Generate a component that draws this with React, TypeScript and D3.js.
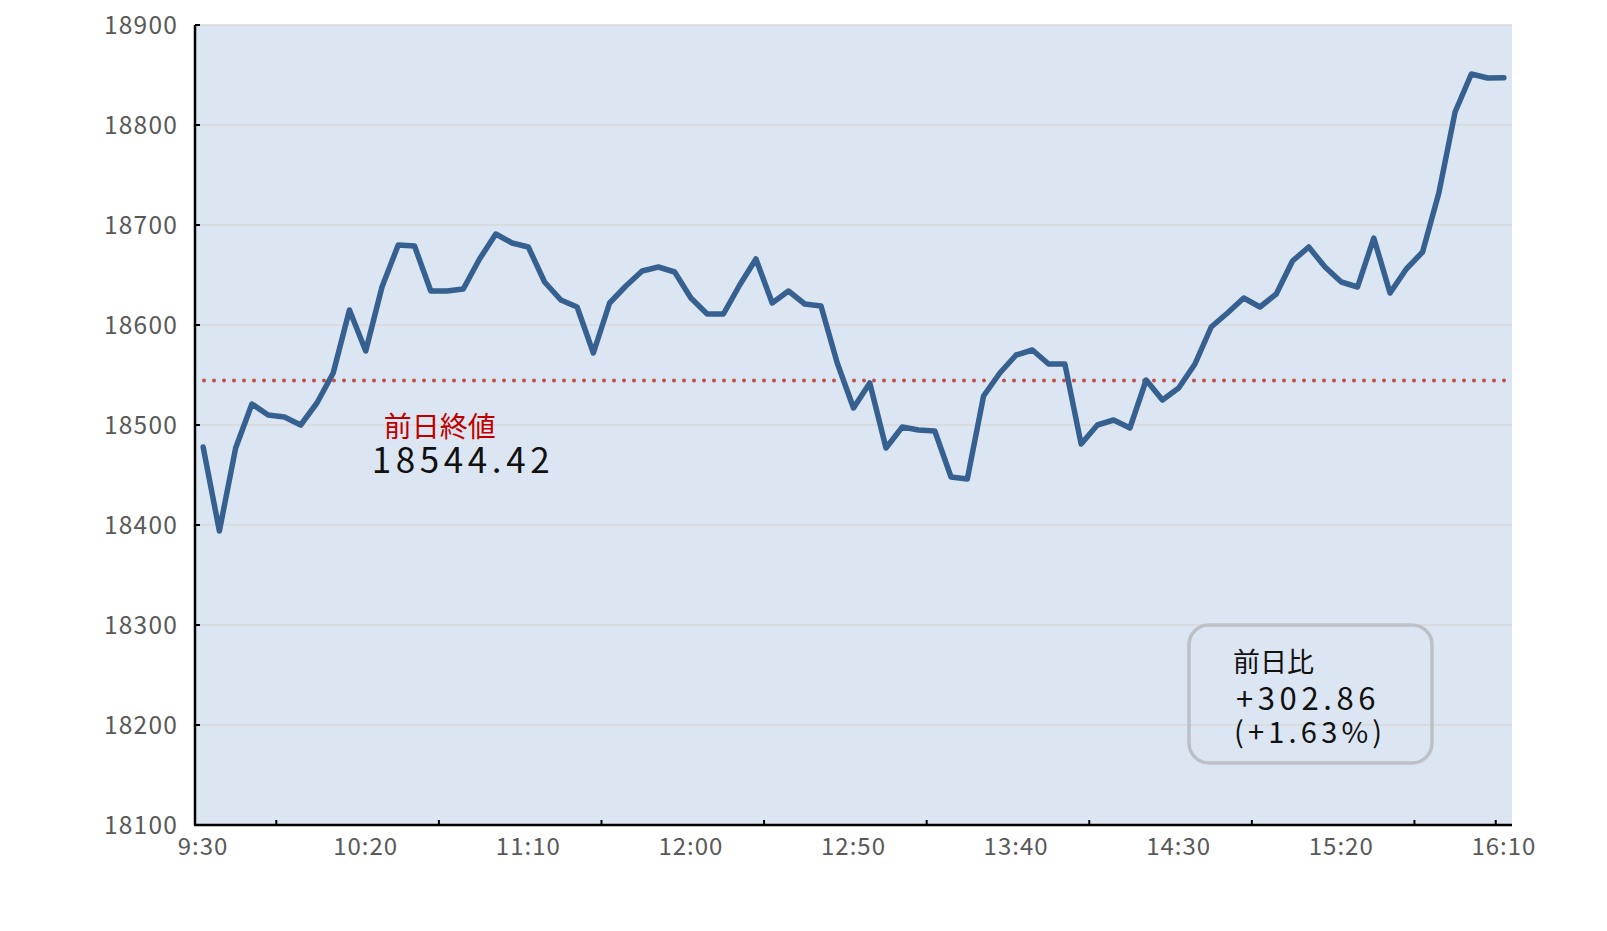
import React, { useEffect } from "react";
import * as d3 from "d3";

const times: string[] = [
  "9:30","9:35","9:40","9:45","9:50","9:55",
  "10:00","10:05","10:10","10:15","10:20","10:25","10:30","10:35","10:40","10:45","10:50","10:55",
  "11:00","11:05","11:10","11:15","11:20","11:25","11:30","11:35","11:40","11:45","11:50","11:55",
  "12:00","12:05","12:10","12:15","12:20","12:25","12:30","12:35","12:40","12:45","12:50","12:55",
  "13:00","13:05","13:10","13:15","13:20","13:25","13:30","13:35","13:40","13:45","13:50","13:55",
  "14:00","14:05","14:10","14:15","14:20","14:25","14:30","14:35","14:40","14:45","14:50","14:55",
  "15:00","15:05","15:10","15:15","15:20","15:25","15:30","15:35","15:40","15:45","15:50","15:55",
  "16:00","16:05","16:10",
];

const prices: number[] = [
  18478, 18394, 18477, 18521, 18510, 18508, 18500, 18522, 18552, 18615,
  18574, 18638, 18680, 18679, 18634, 18634, 18636, 18666, 18691, 18682,
  18678, 18643, 18625, 18618, 18572, 18622, 18639, 18654, 18658, 18653,
  18627, 18611, 18611, 18640, 18666, 18622, 18634, 18621, 18619, 18562,
  18517, 18542, 18477, 18498, 18495, 18494, 18448, 18446, 18529, 18552,
  18570, 18575, 18561, 18561, 18481, 18500, 18505, 18497, 18545, 18525,
  18537, 18561, 18598, 18612, 18627, 18618, 18631, 18664, 18678, 18658,
  18643, 18638, 18687, 18632, 18656, 18673, 18732, 18813, 18851, 18847,
  18847.28,
];

const xLabels: string[] = ["9:30","10:20","11:10","12:00","12:50","13:40","14:30","15:20","16:10"];
// tick marks sit on the left boundary of these categories
const xTickBoundaries: string[] = ["9:55","10:45","11:35","12:25","13:15","14:05","14:55","15:45","16:10"];
const yTicks: number[] = [18100, 18200, 18300, 18400, 18500, 18600, 18700, 18800, 18900];

const prevClose = 18544.42;
const prevCloseLabel = "前日終値";
const changeTitle = "前日比";
const changeValue = "+302.86";
const changePct = "(+1.63%)";

const W = 1607;
const H = 931;
const M = { left: 195, right: 1512, top: 25, bottom: 825 };
const FONT = "'Noto Sans CJK JP', 'Noto Sans', sans-serif";

export default function App() {
  useEffect(() => {
    document.body.style.margin = "0";
  }, []);

  const x = d3.scalePoint<string>().domain(times).range([M.left, M.right]).padding(0.5);
  const step = x.step();
  const y = d3.scaleLinear().domain([18100, 18900]).range([M.bottom, M.top]);

  const line = d3
    .line<number>()
    .x((_, i) => x(times[i]) as number)
    .y((d) => y(d));

  const yPrev = y(prevClose);
  const lx = x("10:20") as number;

  return (
    <svg width={W} height={H} style={{ display: "block", background: "#fff" }} fontFamily={FONT}>
      <rect x={M.left} y={M.top} width={M.right - M.left} height={M.bottom - M.top} fill="#dce6f2" />
      {yTicks.map((t) => (
        <line key={"g" + t} x1={M.left} x2={M.right} y1={y(t)} y2={y(t)} stroke="#d9d9d9" strokeWidth={1.5} />
      ))}
      {/* previous close dotted line */}
      <line
        x1={M.left + 9}
        x2={M.right - 4}
        y1={yPrev}
        y2={yPrev}
        stroke="#c0504d"
        strokeWidth={4}
        strokeDasharray="0 10"
        strokeLinecap="round"
      />
      <path d={line(prices) || ""} fill="none" stroke="#36608f" strokeWidth={5.5} strokeLinejoin="round" strokeLinecap="round" />

      {/* axes */}
      <line x1={M.left} x2={M.left} y1={M.top} y2={M.bottom} stroke="#000" strokeWidth={2.5} />
      <line x1={M.left - 1} x2={M.right} y1={M.bottom} y2={M.bottom} stroke="#000" strokeWidth={2.5} />
      {yTicks.map((t) => (
        <line key={"yt" + t} x1={M.left} x2={M.left + 5} y1={y(t)} y2={y(t)} stroke="#000" strokeWidth={2} />
      ))}
      {xTickBoundaries.map((c) => {
        const xx = (x(c) as number) - step / 2;
        return <line key={"xt" + c} x1={xx} x2={xx} y1={M.bottom} y2={M.bottom - 5} stroke="#000" strokeWidth={2} />;
      })}
      {yTicks.map((t) => (
        <text
          key={"yl" + t}
          x={M.left - 17}
          y={y(t)}
          dy="0.36em"
          textAnchor="end"
          fontSize={24.5}
          fill="#595959"
          letterSpacing={1.2}
        >
          {t}
        </text>
      ))}
      {xLabels.map((c) => (
        <text key={"xl" + c} x={x(c) as number} y={855} textAnchor="middle" fontSize={24} fill="#595959" letterSpacing={1}>
          {c}
        </text>
      ))}

      {/* previous close annotation (one multi-line text) */}
      <text y={437}>
        <tspan x={lx + 18} fontSize={28} fill="#c00000">
          {prevCloseLabel}
        </tspan>
        <tspan x={lx + 6} dy={36} fontSize={35} fill="#111" letterSpacing={4.6}>
          {prevClose.toFixed(2)}
        </tspan>
      </text>

      {/* change box */}
      <rect x={1189} y={625} width={243} height={138} rx={20} ry={20} fill="none" stroke="#bcc1c7" strokeWidth={3.5} />
      <text y={672} fill="#111">
        <tspan x={1233} fontSize={27}>
          {changeTitle}
        </tspan>
        <tspan x={1236} dy={38} fontSize={31} letterSpacing={4.6}>
          {changeValue}
        </tspan>
        <tspan x={1234} dy={33} fontSize={29} letterSpacing={4.2}>
          {changePct}
        </tspan>
      </text>
    </svg>
  );
}
